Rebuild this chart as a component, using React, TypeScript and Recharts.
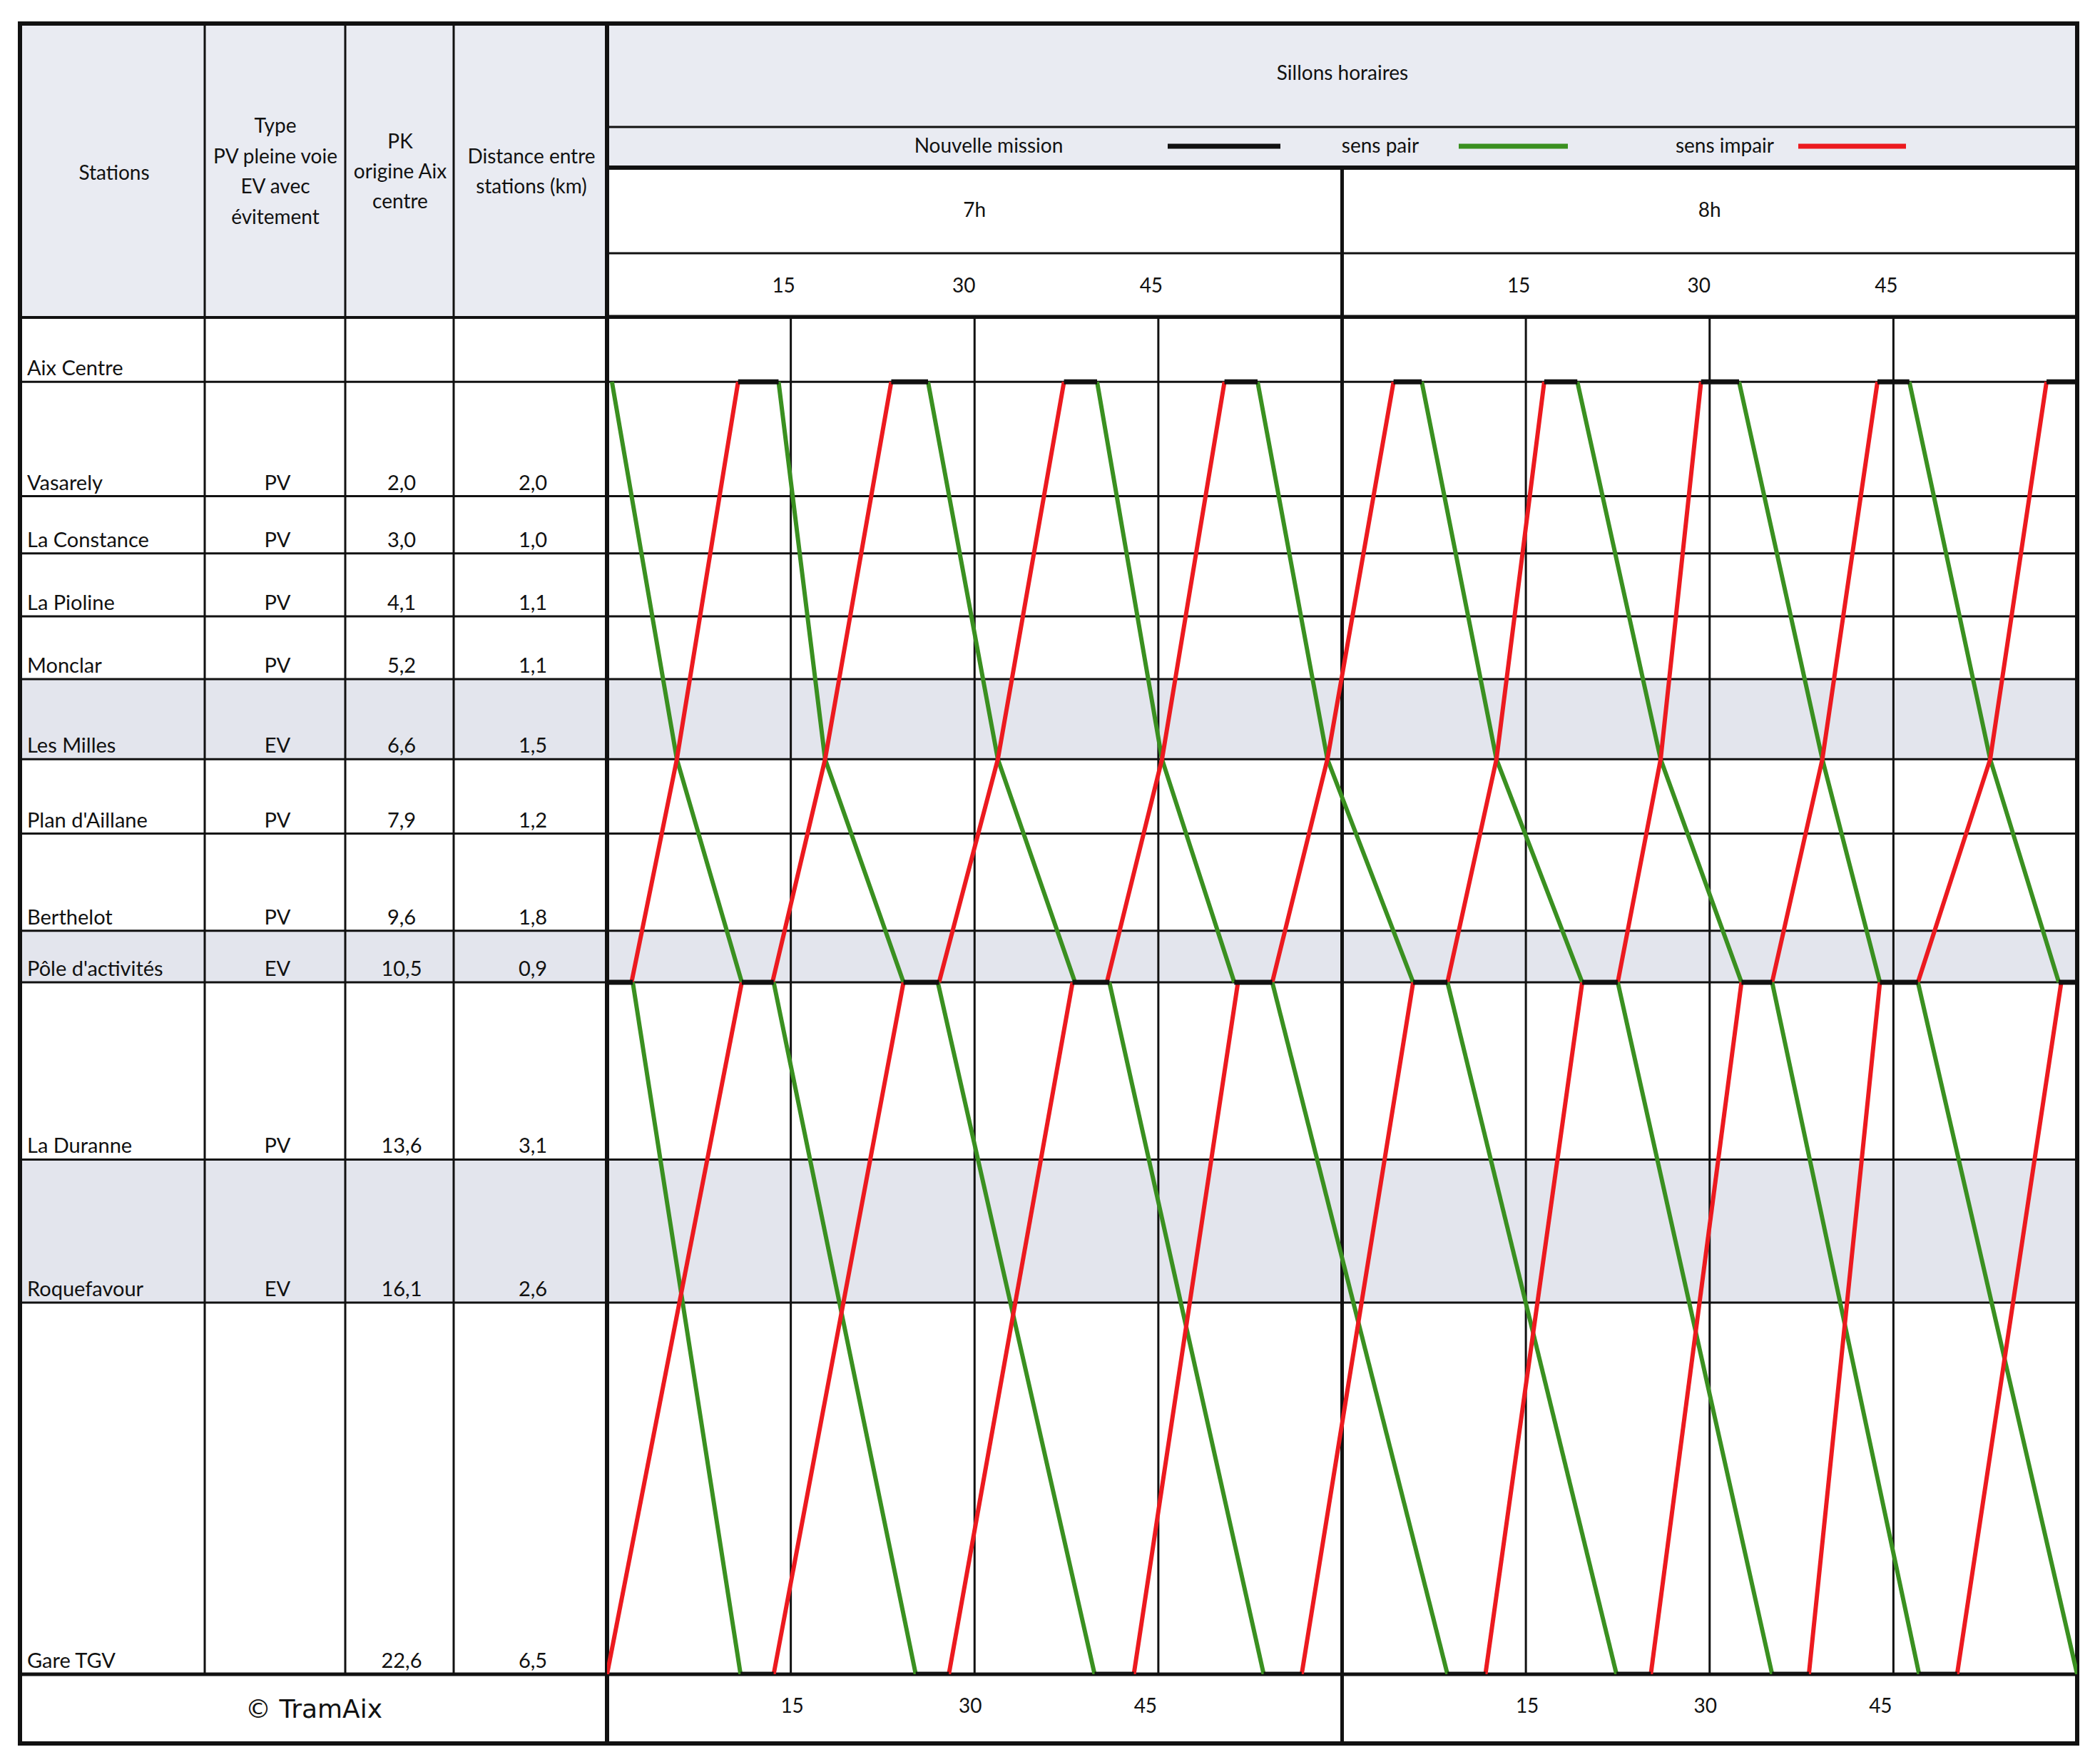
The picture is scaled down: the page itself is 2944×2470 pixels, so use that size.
import { LineChart, Line, XAxis, YAxis, CartesianGrid, ReferenceLine } from "recharts";

// stations table
const STATIONS = [
  "Aix Centre", "Vasarely", "La Constance", "La Pioline", "Monclar", "Les Milles",
  "Plan d'Aillane", "Berthelot", "Pôle d'activités", "La Duranne", "Roquefavour", "Gare TGV",
];
const TYPES = ["", "PV", "PV", "PV", "PV", "EV", "PV", "PV", "EV", "PV", "EV", ""];
const PK = [0, 2.0, 3.0, 4.1, 5.2, 6.6, 7.9, 9.6, 10.5, 13.6, 16.1, 22.6];
const DIST = [null, 2.0, 1.0, 1.1, 1.1, 1.5, 1.2, 1.8, 0.9, 3.1, 2.6, 6.5];

// time axis (minutes after 7h)
const HOURS = ["7h", "8h"];
const MINUTE_TICKS = [15, 30, 45, 75, 90, 105];

// sens pair, Aix -> Pôle : [Aix, Les Milles, Pôle]
const PAIR_HAUT = [
  [0.4, 5.7, 11.0], [14.0, 17.8, 24.2], [26.2, 31.9, 38.2], [40.0, 45.3, 51.2], [53.1, 58.8, 65.8],
  [66.5, 72.6, 79.6], [79.2, 86.0, 92.6], [92.4, 99.2, 103.9], [106.3, 112.9, 118.5],
];
// sens impair, Pôle -> Aix : [Pôle, Les Milles, Aix]
const IMPAIR_HAUT = [
  [2.0, 5.7, 10.7], [13.5, 17.8, 23.2], [27.1, 31.9, 37.3], [40.8, 45.3, 50.4], [54.3, 58.8, 64.2],
  [68.6, 72.6, 76.5], [82.5, 86.0, 89.3], [95.1, 99.2, 103.7], [107.0, 112.9, 117.5],
];
// sens pair, Pôle -> Gare TGV : [Pôle, TGV]
const PAIR_BAS = [
  [2.1, 10.9], [13.6, 25.2], [27.0, 39.8], [41.0, 53.6], [54.3, 68.6],
  [68.6, 82.4], [82.5, 95.1], [95.1, 107.1], [107.0, 120],
];
// sens impair, Gare TGV -> Pôle : [TGV, Pôle]
const IMPAIR_BAS = [
  [0, 11.0], [13.6, 24.2], [27.9, 38.0], [43.0, 51.5], [56.7, 65.8],
  [71.7, 79.6], [85.2, 92.6], [98.1, 103.9], [110.2, 118.7],
];
// nouvelle mission (terminus dwell) : [start, end]
const MISSION_AIX = [
  [10.7, 14.0], [23.2, 26.2], [37.3, 40.0], [50.4, 53.1], [64.2, 66.5],
  [76.5, 79.2], [89.3, 92.4], [103.7, 106.3], [117.5, 120],
];
const MISSION_POLE = [
  [0, 2.1], [11.0, 13.6], [24.2, 27.1], [38.0, 41.0], [51.2, 54.3],
  [65.8, 68.6], [79.6, 82.5], [92.6, 95.1], [103.9, 107.0], [118.5, 120],
];
const MISSION_TGV = [
  [10.9, 13.6], [25.2, 27.9], [39.8, 43.0], [53.6, 56.7],
  [68.6, 71.7], [82.4, 85.2], [95.1, 98.1], [107.1, 110.2],
];

const GREEN = "#3a9020";
const RED = "#ec1a1f";
const INK = "#111";

const LEGEND = [
  { label: "Nouvelle mission", color: INK, cx: 1386, x1: 1637, x2: 1795 },
  { label: "sens pair", color: GREEN, cx: 1935, x1: 2045, x2: 2198 },
  { label: "sens impair", color: RED, cx: 2418, x1: 2521, x2: 2672 },
];

const W = 2944;
const H = 2470;
const PLOT = { left: 851, right: 2912, top: 443, bottom: 2347 };
const T_DOMAIN = [0, 120];
const PK_DOMAIN = [-1.15, 22.6];
const HEAD_BG = "#e9ebf2";
const EV_BG = "#e3e5ed";
const FONT = "Lato, 'Noto Sans', sans-serif";
const FS = 28;

const yOf = (pk: number) =>
  PLOT.top + ((pk - PK_DOMAIN[0]) / (PK_DOMAIN[1] - PK_DOMAIN[0])) * (PLOT.bottom - PLOT.top);
const xOf = (t: number) =>
  PLOT.left + ((t - T_DOMAIN[0]) / (T_DOMAIN[1] - T_DOMAIN[0])) * (PLOT.right - PLOT.left);

const PK_AIX = PK[0];
const PK_LM = PK[STATIONS.indexOf("Les Milles")];
const PK_POLE = PK[STATIONS.indexOf("Pôle d'activités")];
const PK_TGV = PK[PK.length - 1];

const fmt = (v: number) => v.toFixed(1).replace(".", ",");

const series = [
  ...PAIR_HAUT.map((r) => ({ color: GREEN, w: 6, pts: r.map((t, i) => ({ t, pk: [PK_AIX, PK_LM, PK_POLE][i] })) })),
  ...IMPAIR_HAUT.map((r) => ({ color: RED, w: 6, pts: r.map((t, i) => ({ t, pk: [PK_POLE, PK_LM, PK_AIX][i] })) })),
  ...PAIR_BAS.map((r) => ({ color: GREEN, w: 6, pts: [{ t: r[0], pk: PK_POLE }, { t: r[1], pk: PK_TGV }] })),
  ...IMPAIR_BAS.map((r) => ({ color: RED, w: 6, pts: [{ t: r[0], pk: PK_TGV }, { t: r[1], pk: PK_POLE }] })),
  ...MISSION_AIX.map((r) => ({ color: INK, w: 7, pts: [{ t: r[0], pk: PK_AIX }, { t: r[1], pk: PK_AIX }] })),
  ...MISSION_POLE.map((r) => ({ color: INK, w: 7, pts: [{ t: r[0], pk: PK_POLE }, { t: r[1], pk: PK_POLE }] })),
  ...MISSION_TGV.map((r) => ({ color: INK, w: 7, pts: [{ t: r[0], pk: PK_TGV }, { t: r[1], pk: PK_TGV }] })),
];

const TOP_DX: Record<number, number> = { 15: -10, 30: -15, 45: -10 };
const BOT_DX: Record<number, number> = { 15: 2, 30: -6, 45: -18 };

function TimeTick(props: any) {
  const { x, payload } = props;
  const v = payload.value as number;
  const m = v % 60;
  const hour = m === 30 ? HOURS[Math.floor(v / 60)] : null;
  const st = { fontFamily: FONT, fontSize: FS, fill: INK };
  return (
    <g>
      {hour && <text x={x} y={304} textAnchor="middle" style={st}>{hour}</text>}
      <text x={x + TOP_DX[m]} y={410} textAnchor="middle" style={st}>{m}</text>
      <text x={x + BOT_DX[m]} y={2401} textAnchor="middle" style={st}>{m}</text>
    </g>
  );
}

function StationTick(props: any) {
  const { y, payload } = props;
  const i = PK.indexOf(payload.value);
  if (i < 0) return null;
  const st = { fontFamily: FONT, fontSize: 29, fill: INK };
  const by = y - 9;
  return (
    <g>
      <line x1={28} x2={851} y1={y} y2={y} stroke={INK} strokeWidth={3} />
      <text x={38} y={by} style={st}>{STATIONS[i]}</text>
      <text x={389} y={by} textAnchor="middle" style={st}>{TYPES[i]}</text>
      {i > 0 && <text x={563} y={by} textAnchor="middle" style={st}>{fmt(PK[i])}</text>}
      {DIST[i] != null && <text x={747} y={by} textAnchor="middle" style={st}>{fmt(DIST[i] as number)}</text>}
    </g>
  );
}

function Frame() {
  const evRows = TYPES.map((t, i) => (t === "EV" ? [PK[i - 1], PK[i]] : null)).filter(Boolean) as number[][];
  const st = { fontFamily: FONT, fontSize: FS, fill: INK };
  const hx = xOf(60);
  const hl = (y: number, x1: number, x2: number, w: number) => (
    <line x1={x1} x2={x2} y1={y} y2={y} stroke={INK} strokeWidth={w} />
  );
  const vl = (x: number, y1: number, y2: number, w: number) => (
    <line x1={x} x2={x} y1={y1} y2={y2} stroke={INK} strokeWidth={w} />
  );
  return (
    <svg width={W} height={H} style={{ position: "absolute", left: 0, top: 0 }}>
      <rect x={0} y={0} width={W} height={H} fill="#fff" />
      <rect x={28} y={33} width={823} height={412} fill={HEAD_BG} />
      <rect x={851} y={33} width={2061} height={202} fill={HEAD_BG} />
      {evRows.map(([a, b], i) => (
        <rect key={i} x={28} y={yOf(a)} width={2884} height={yOf(b) - yOf(a)} fill={EV_BG} />
      ))}

      {hl(178, 851, 2912, 3)}
      {hl(235, 851, 2912, 6)}
      {hl(355, 851, 2912, 3)}
      {hl(445, 28, 2912, 4)}
      {hl(2347, 28, 2912, 5)}
      {hl(2444, 25, 2915, 6)}
      {hl(33, 25, 2915, 6)}
      {vl(28, 33, 2444, 6)}
      {vl(287, 33, 2347, 3)}
      {vl(484, 33, 2347, 3)}
      {vl(636, 33, 2347, 3)}
      {vl(851, 33, 2444, 6)}
      {vl(hx, 235, 2444, 5)}
      {vl(2912, 33, 2444, 6)}

      <text x={160} y={252} textAnchor="middle" style={st}>Stations</text>
      <text x={386} y={186} textAnchor="middle" style={st}>Type</text>
      <text x={386} y={229} textAnchor="middle" style={st}>PV pleine voie</text>
      <text x={386} y={271} textAnchor="middle" style={st}>EV avec</text>
      <text x={386} y={314} textAnchor="middle" style={st}>évitement</text>
      <text x={561} y={208} textAnchor="middle" style={st}>PK</text>
      <text x={561} y={250} textAnchor="middle" style={st}>origine Aix</text>
      <text x={561} y={292} textAnchor="middle" style={st}>centre</text>
      <text x={745} y={229} textAnchor="middle" style={st}>Distance entre</text>
      <text x={745} y={271} textAnchor="middle" style={st}>stations (km)</text>

      <text x={1882} y={112} textAnchor="middle" style={st}>Sillons horaires</text>
      {LEGEND.map((l) => (
        <g key={l.label}>
          <text x={l.cx} y={214} textAnchor="middle" style={st}>{l.label}</text>
          <line x1={l.x1} x2={l.x2} y1={205} y2={205} stroke={l.color} strokeWidth={7} />
        </g>
      ))}

      <text x={440} y={2408} textAnchor="middle" style={{ fontFamily: "'DejaVu Sans', sans-serif", fontSize: 36, fill: INK }}>
        © TramAix
      </text>
    </svg>
  );
}

export default function App() {
  return (
    <div style={{ position: "absolute", left: 0, top: 0, width: W, height: H, background: "#fff" }}>
      <Frame />
      <LineChart
        width={W}
        height={H}
        margin={{ top: PLOT.top - 30, right: W - PLOT.right, bottom: H - PLOT.bottom, left: 28 }}
        style={{ position: "absolute", left: 0, top: 0 }}
      >
        <CartesianGrid vertical={false} stroke={INK} strokeWidth={3} />
        <XAxis
          type="number"
          dataKey="t"
          domain={T_DOMAIN}
          ticks={MINUTE_TICKS}
          interval={0}
          orientation="top"
          height={30}
          axisLine={false}
          tickLine={false}
          tick={<TimeTick />}
          allowDataOverflow
        />
        <YAxis
          type="number"
          dataKey="pk"
          domain={PK_DOMAIN}
          ticks={PK}
          interval={0}
          reversed
          width={PLOT.left - 28}
          axisLine={false}
          tickLine={false}
          tick={<StationTick />}
          allowDataOverflow
        />
        {MINUTE_TICKS.map((m) => (
          <ReferenceLine key={m} x={m} stroke={INK} strokeWidth={3} />
        ))}
        {series.map((s, i) => (
          <Line
            key={i}
            data={s.pts}
            dataKey="pk"
            type="linear"
            stroke={s.color}
            strokeWidth={s.w}
            dot={false}
            activeDot={false}
            legendType="none"
            isAnimationActive={false}
          />
        ))}
      </LineChart>
    </div>
  );
}
